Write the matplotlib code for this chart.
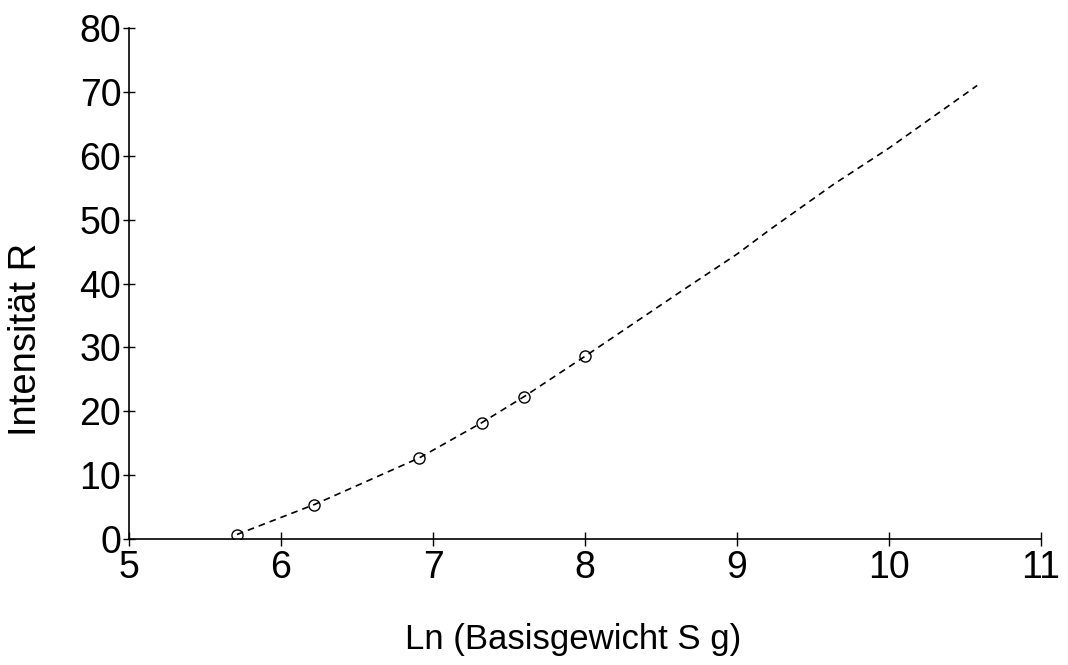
import matplotlib
matplotlib.use("Agg")
import matplotlib.pyplot as plt

plt.rcParams['font.family'] = ['Liberation Sans', 'DejaVu Sans']

# measured points
x_pts = [5.71, 6.22, 6.91, 7.32, 7.60, 8.00]
y_pts = [0.7, 5.4, 12.7, 18.2, 22.3, 28.6]

# fitted curve (dashed)
x_fit = [5.71, 6.22, 6.91, 7.32, 7.60, 8.00, 8.64, 9.0, 9.22, 9.64, 10.0, 10.58]
y_fit = [0.7, 5.4, 12.7, 18.2, 22.3, 28.6, 38.9, 44.6, 48.5, 55.6, 61.2, 71.0]

x_ticks = [5, 6, 7, 8, 9, 10, 11]
y_ticks = [0, 10, 20, 30, 40, 50, 60, 70, 80]

fig = plt.figure(figsize=(10.68, 6.65), dpi=100)
ax = fig.add_axes([129 / 1068, 1 - 539 / 665, (1041 - 129) / 1068, (539 - 28) / 665])

ax.plot(x_fit, y_fit, linestyle=(0, (4, 3)), color='black', linewidth=1.2)
ax.plot(x_pts, y_pts, linestyle='none', marker='o', markersize=8,
        markerfacecolor='none', markeredgecolor='black', markeredgewidth=1.0)

ax.set_xlim(5, 11)
ax.set_ylim(0, 80)
ax.set_xticks(x_ticks)
ax.set_yticks(y_ticks)

for s in ['top', 'right']:
    ax.spines[s].set_visible(False)
for s in ['left', 'bottom']:
    ax.spines[s].set_linewidth(1.2)

ax.tick_params(axis='x', direction='inout', length=10, width=1, labelsize=27, pad=3)
ax.tick_params(axis='y', direction='inout', length=9, width=1, labelsize=27, pad=1)

ax.set_xlabel('Ln (Basisgewicht S g)', fontsize=25)
ax.set_ylabel('Intensität R', fontsize=27.5)
ax.xaxis.set_label_coords(0.487, -0.165)
ax.yaxis.set_label_coords(-0.093, 0.39)

fig.savefig('out.png', dpi=100)
